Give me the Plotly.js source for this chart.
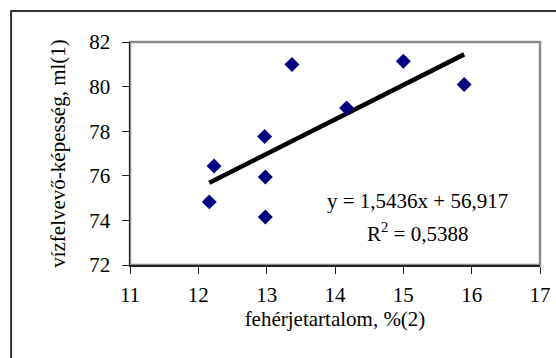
<!DOCTYPE html>
<html>
<head>
<meta charset="utf-8">
<script src="https://cdn.plot.ly/plotly-3.0.1.min.js"></script>
<style>html,body{margin:0;padding:0;background:#fff;}#chart{width:556px;height:358px;}</style>
</head>
<body>
<div id="chart"></div>
<script>
// Data
const proteinX = [12.16, 12.23, 12.97, 12.98, 12.98, 13.37, 14.17, 15.00, 15.89];
const waterY   = [74.83, 76.44, 77.76, 75.95, 74.15, 80.99, 79.04, 81.14, 80.09];
// Trendline coefficients as printed on the chart
const slope = 1.5436;
const intercept = 56.917;
const eqText = "y = 1,5436x + 56,917";
const r2Text = "R<sup>2</sup> = 0,5388";
const xTitle = "fehérjetartalom, %(2)";
const yTitle = "vízfelvevő-képesség, ml(1)";

const xMin = Math.min(...proteinX), xMax = Math.max(...proteinX);
const trendX = [xMin, xMax];
const trendY = trendX.map(v => slope * v + intercept);

const font = {family: "Liberation Serif, Times New Roman, serif", size: 21, color: "#000"};

const traces = [
  {x: trendX, y: trendY, type: "scatter", mode: "lines",
   line: {color: "#000", width: 4.5}, hoverinfo: "skip", showlegend: false},
  {x: proteinX, y: waterY, type: "scatter", mode: "markers",
   marker: {symbol: "diamond", size: 11.5, color: "#000080"}, showlegend: false}
];

const layout = {
  width: 556, height: 358,
  margin: {l: 130, r: 16, t: 42, b: 93, pad: 0},
  paper_bgcolor: "#fff", plot_bgcolor: "#fff",
  font: font,
  showlegend: false,
  xaxis: {
    range: [11, 17], dtick: 1, tick0: 11, showgrid: false, zeroline: false,
    showline: true, linecolor: "#222", linewidth: 1.5,
    ticks: "outside", ticklen: 7, tickwidth: 1, tickcolor: "#222",
    tickfont: font, automargin: false, ticklabelstandoff: 3,
    title: {text: xTitle, font: font, standoff: 4}
  },
  yaxis: {
    range: [72, 82], dtick: 2, tick0: 72, showgrid: false, zeroline: false,
    showline: true, linecolor: "#222", linewidth: 1.5,
    ticks: "outside", ticklen: 7, tickwidth: 1, tickcolor: "#222",
    tickfont: font, automargin: false, ticklabelstandoff: 7,
    title: {text: yTitle, font: font, standoff: 18}
  },
  shapes: [
    {type: "rect", xref: "paper", yref: "paper", x0: 0, x1: 1, y0: 0, y1: 1,
     line: {color: "#8c8c8c", width: 2.5}, layer: "below"},
    {type: "rect", xref: "paper", yref: "paper", x0: -0.290, x1: 1.40, y0: -0.6, y1: 1.139,
     line: {color: "#333", width: 2}, fillcolor: "rgba(0,0,0,0)", layer: "below"}
  ],
  annotations: [
    {text: eqText, xref: "x", yref: "y", x: 15.20, y: 74.85, showarrow: false,
     font: font, xanchor: "center", yanchor: "middle"},
    {text: r2Text, xref: "x", yref: "y", x: 15.20, y: 73.45, showarrow: false,
     font: font, xanchor: "center", yanchor: "middle"}
  ]
};

Plotly.newPlot("chart", traces, layout, {staticPlot: true, displayModeBar: false});
</script>
</body>
</html>
